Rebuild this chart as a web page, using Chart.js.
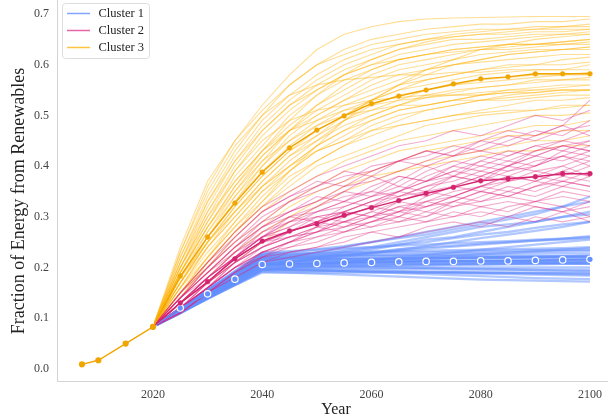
<!DOCTYPE html>
<html><head><meta charset="utf-8">
<script src="https://cdn.jsdelivr.net/npm/chart.js@4/dist/chart.umd.min.js"></script>
<style>html,body{margin:0;padding:0;background:#fff;overflow:hidden}#wrap{width:608px;height:419px;position:relative}canvas{display:block}</style>
</head><body><div id="wrap"><canvas id="c" width="608" height="419"></canvas></div>
<script>
// ---------- DATA ----------
const historyYears = [2007, 2010, 2015, 2020];
const historyValues = [0.009, 0.017, 0.050, 0.083];

const scenarioYears = [2020,2025,2030,2035,2040,2045,2050,2055,2060,2065,2070,2075,2080,2085,2090,2095,2100];

const cluster1Mean = [0.083,0.120,0.148,0.177,0.206,0.207,0.208,0.209,0.210,0.211,0.212,0.212,0.213,0.213,0.214,0.215,0.216];
const cluster2Mean = [0.083,0.130,0.172,0.217,0.252,0.272,0.286,0.303,0.318,0.332,0.346,0.358,0.371,0.375,0.379,0.385,0.385];
const cluster3Mean = [0.083,0.183,0.260,0.327,0.388,0.436,0.471,0.499,0.523,0.538,0.550,0.562,0.572,0.576,0.582,0.582,0.582];

const cluster1Runs = [
 [.083,.110,.140,.165,.190,.190,.190,.190,.190,.190,.190,.190,.190,.190,.190,.190,.190],
 [.083,.110,.140,.167,.195,.195,.195,.195,.194,.193,.192,.191,.190,.189,.188,.187,.186],
 [.083,.112,.142,.171,.200,.200,.200,.200,.200,.200,.200,.200,.200,.200,.200,.200,.200],
 [.083,.113,.144,.174,.205,.205,.206,.207,.208,.209,.210,.211,.212,.213,.214,.215,.216],
 [.083,.115,.147,.178,.210,.210,.210,.210,.210,.210,.210,.210,.210,.210,.210,.210,.210],
 [.083,.116,.149,.182,.215,.215,.215,.216,.217,.218,.218,.219,.220,.220,.221,.222,.222],
 [.083,.117,.151,.186,.220,.220,.221,.222,.222,.223,.224,.225,.226,.226,.227,.228,.228],
 [.083,.119,.155,.190,.225,.226,.227,.228,.229,.230,.230,.231,.232,.233,.234,.235,.235],
 [.083,.120,.157,.193,.230,.232,.235,.238,.240,.243,.245,.248,.250,.252,.255,.257,.260],
 [.083,.111,.139,.167,.195,.200,.205,.210,.215,.220,.225,.230,.235,.240,.245,.250,.255],
 [.083,.114,.145,.175,.206,.210,.216,.222,.228,.235,.242,.250,.258,.265,.272,.280,.290],
 [.083,.116,.148,.180,.212,.220,.230,.240,.250,.260,.270,.280,.290,.300,.310,.320,.330],
 [.083,.113,.143,.173,.203,.210,.220,.230,.235,.245,.255,.260,.270,.280,.290,.300,.305],
 [.083,.110,.138,.165,.192,.190,.188,.186,.184,.182,.180,.178,.176,.175,.174,.173,.172],
 [.083,.111,.139,.168,.197,.196,.195,.193,.191,.189,.187,.185,.183,.181,.179,.178,.177],
 [.083,.115,.146,.177,.208,.212,.218,.225,.230,.236,.240,.243,.247,.250,.253,.255,.258],
 [.083,.118,.153,.187,.222,.225,.230,.235,.240,.250,.260,.270,.280,.285,.290,.300,.310],
 [.083,.114,.146,.177,.208,.208,.209,.210,.210,.211,.212,.212,.213,.214,.214,.215,.215],
 [.083,.112,.141,.170,.199,.200,.201,.202,.203,.204,.205,.206,.207,.208,.209,.210,.210],
 [.083,.117,.150,.184,.218,.220,.225,.232,.238,.245,.250,.258,.265,.270,.278,.285,.290],
 [.083,.119,.156,.192,.228,.228,.229,.230,.231,.232,.233,.234,.235,.236,.237,.238,.240],
 [.083,.113,.142,.172,.202,.202,.202,.203,.203,.204,.204,.205,.205,.206,.206,.207,.207],
 [.083,.115,.148,.180,.212,.213,.214,.215,.216,.217,.218,.219,.220,.221,.222,.223,.224],
 [.083,.119,.155,.190,.226,.230,.236,.242,.250,.258,.265,.275,.285,.295,.305,.320,.340],
 [.083,.111,.139,.166,.194,.194,.193,.193,.192,.192,.191,.191,.190,.190,.189,.189,.188],
 [.083,.112,.141,.169,.198,.198,.198,.198,.197,.197,.197,.196,.196,.196,.195,.195,.195],
 [.083,.113,.143,.172,.202,.203,.204,.205,.205,.206,.207,.207,.208,.208,.209,.209,.210],
 [.083,.114,.145,.176,.207,.207,.207,.207,.207,.207,.207,.207,.207,.207,.207,.207,.207],
 [.083,.115,.146,.178,.209,.210,.211,.212,.213,.214,.215,.216,.217,.218,.219,.220,.221],
 [.083,.116,.148,.181,.213,.213,.213,.213,.213,.213,.213,.213,.213,.213,.213,.213,.213],
 [.083,.116,.150,.183,.216,.216,.217,.217,.218,.218,.219,.219,.220,.220,.221,.221,.222],
 [.083,.117,.151,.185,.219,.219,.219,.219,.219,.219,.219,.219,.219,.219,.219,.219,.219],
 [.083,.118,.152,.187,.221,.222,.223,.224,.225,.226,.227,.228,.229,.230,.231,.232,.233],
 [.083,.118,.154,.189,.224,.224,.224,.224,.224,.224,.223,.223,.223,.223,.222,.222,.222],
 [.083,.112,.140,.168,.196,.195,.194,.193,.192,.191,.190,.189,.188,.187,.186,.185,.184],
 [.083,.114,.144,.175,.205,.204,.203,.202,.201,.200,.199,.198,.197,.196,.195,.194,.193],
 [.083,.117,.151,.184,.218,.218,.218,.217,.216,.215,.214,.213,.212,.211,.210,.209,.208],
 [.083,.113,.143,.174,.204,.206,.208,.211,.214,.217,.220,.223,.226,.229,.232,.235,.238],
 [.083,.116,.149,.182,.215,.218,.221,.225,.229,.233,.237,.241,.245,.249,.253,.257,.262]
];

const cluster2Runs = [
 [.083,.15,.21,.27,.32,.35,.38,.40,.42,.44,.45,.47,.46,.48,.50,.49,.51],
 [.083,.14,.20,.25,.30,.33,.35,.37,.40,.41,.43,.42,.44,.46,.45,.47,.48],
 [.083,.14,.19,.24,.28,.31,.33,.36,.37,.39,.41,.43,.45,.44,.46,.48,.53],
 [.083,.13,.18,.23,.27,.29,.32,.34,.35,.38,.37,.40,.42,.41,.43,.44,.45],
 [.083,.13,.18,.22,.26,.28,.30,.31,.33,.34,.36,.38,.37,.39,.40,.42,.41],
 [.083,.13,.17,.22,.25,.27,.29,.30,.32,.34,.35,.36,.38,.40,.39,.40,.42],
 [.083,.12,.17,.21,.24,.26,.28,.29,.30,.32,.33,.35,.36,.37,.38,.37,.39],
 [.083,.12,.16,.20,.23,.25,.26,.28,.29,.31,.32,.33,.35,.34,.36,.37,.36],
 [.083,.12,.16,.20,.23,.24,.25,.27,.28,.29,.30,.32,.33,.34,.33,.35,.34],
 [.083,.11,.15,.19,.22,.23,.24,.25,.27,.28,.29,.30,.31,.30,.32,.31,.33],
 [.083,.11,.15,.18,.21,.22,.23,.24,.25,.26,.27,.28,.29,.28,.30,.29,.30],
 [.083,.14,.19,.23,.26,.30,.32,.35,.34,.37,.40,.38,.41,.43,.42,.44,.43],
 [.083,.13,.17,.21,.25,.26,.27,.30,.32,.31,.34,.36,.35,.37,.38,.40,.38],
 [.083,.12,.16,.21,.25,.27,.30,.29,.31,.33,.32,.34,.36,.35,.37,.36,.38],
 [.083,.15,.20,.25,.29,.31,.33,.35,.38,.36,.39,.41,.40,.42,.44,.43,.45],
 [.083,.11,.15,.19,.23,.25,.27,.29,.28,.30,.33,.34,.36,.38,.40,.42,.44],
 [.083,.13,.18,.22,.26,.29,.30,.31,.30,.32,.31,.33,.32,.33,.32,.31,.32],
 [.083,.12,.16,.20,.24,.26,.28,.31,.33,.35,.37,.38,.40,.39,.41,.42,.40],
 [.083,.14,.19,.24,.29,.33,.36,.38,.39,.41,.40,.42,.43,.42,.44,.45,.47],
 [.083,.12,.16,.20,.22,.24,.26,.27,.29,.30,.29,.31,.30,.32,.33,.32,.30],
 [.083,.13,.18,.22,.27,.30,.31,.33,.35,.34,.36,.37,.39,.38,.37,.39,.41],
 [.083,.11,.15,.19,.22,.25,.27,.28,.30,.31,.33,.32,.34,.36,.35,.37,.36],
 [.083,.14,.20,.26,.31,.34,.36,.39,.38,.41,.43,.42,.45,.47,.46,.48,.46],
 [.083,.13,.18,.22,.26,.29,.31,.32,.34,.35,.34,.36,.38,.37,.39,.38,.40],
 [.083,.12,.17,.21,.24,.27,.29,.31,.30,.33,.35,.34,.36,.38,.37,.39,.38],
 [.083,.14,.19,.24,.28,.30,.29,.32,.34,.36,.35,.38,.37,.40,.42,.41,.43],
 [.083,.12,.16,.20,.23,.25,.28,.27,.29,.31,.30,.33,.35,.34,.36,.38,.37],
 [.083,.13,.17,.22,.26,.28,.31,.33,.32,.35,.37,.39,.38,.40,.43,.45,.44],
 [.083,.11,.15,.18,.21,.23,.24,.26,.27,.26,.28,.29,.28,.30,.29,.31,.29],
 [.083,.15,.21,.26,.31,.34,.37,.36,.39,.41,.42,.44,.43,.45,.47,.46,.49],
 [.083,.12,.16,.21,.24,.26,.27,.29,.31,.30,.32,.34,.33,.35,.34,.36,.35],
 [.083,.13,.18,.23,.28,.31,.34,.33,.36,.38,.37,.39,.41,.40,.42,.44,.43],
 [.083,.12,.17,.22,.26,.27,.29,.28,.30,.29,.31,.30,.32,.31,.33,.34,.33],
 [.083,.14,.18,.22,.25,.27,.29,.31,.33,.35,.38,.40,.39,.41,.40,.43,.42]
];

const cluster3Runs = [
 [.083,.24,.37,.45,.52,.58,.63,.66,.675,.685,.69,.692,.693,.694,.695,.695,.695],
 [.083,.22,.34,.43,.50,.56,.60,.63,.65,.66,.67,.675,.68,.68,.685,.685,.69],
 [.083,.21,.32,.41,.48,.53,.57,.60,.62,.64,.65,.66,.665,.67,.67,.675,.675],
 [.083,.20,.30,.39,.46,.51,.55,.58,.60,.62,.63,.64,.645,.65,.655,.66,.66],
 [.083,.20,.29,.37,.43,.48,.52,.55,.58,.60,.61,.62,.63,.635,.64,.64,.645],
 [.083,.19,.28,.36,.42,.47,.50,.53,.55,.57,.59,.60,.61,.62,.625,.63,.63],
 [.083,.19,.27,.34,.40,.45,.49,.52,.54,.56,.57,.58,.59,.60,.60,.61,.615],
 [.083,.18,.26,.33,.39,.44,.48,.51,.53,.55,.56,.57,.58,.585,.59,.59,.60],
 [.083,.18,.25,.32,.38,.43,.46,.49,.52,.54,.55,.56,.57,.575,.58,.58,.585],
 [.083,.17,.25,.31,.37,.42,.45,.48,.50,.52,.54,.55,.555,.56,.57,.57,.575],
 [.083,.17,.24,.30,.36,.40,.44,.47,.49,.51,.52,.53,.54,.55,.555,.56,.56],
 [.083,.16,.23,.29,.35,.39,.43,.45,.48,.50,.51,.52,.53,.535,.54,.545,.55],
 [.083,.16,.22,.28,.33,.38,.41,.44,.46,.48,.49,.50,.51,.52,.53,.53,.535],
 [.083,.15,.21,.27,.32,.36,.40,.42,.44,.46,.48,.49,.50,.505,.51,.52,.52],
 [.083,.15,.20,.26,.31,.35,.38,.41,.43,.45,.46,.47,.48,.49,.50,.50,.505],
 [.083,.14,.20,.25,.29,.33,.36,.39,.41,.43,.44,.45,.46,.47,.48,.48,.49],
 [.083,.14,.19,.24,.28,.32,.35,.37,.39,.41,.43,.44,.45,.46,.46,.47,.47],
 [.083,.13,.18,.23,.27,.30,.33,.36,.38,.39,.41,.42,.43,.44,.45,.45,.46],
 [.083,.23,.35,.44,.50,.54,.56,.57,.575,.58,.58,.585,.585,.59,.59,.59,.59],
 [.083,.15,.21,.27,.33,.39,.44,.49,.53,.56,.59,.61,.63,.64,.65,.655,.66],
 [.083,.21,.31,.39,.45,.49,.51,.52,.53,.535,.54,.54,.545,.55,.55,.55,.55],
 [.083,.17,.26,.34,.41,.47,.52,.56,.59,.61,.62,.63,.635,.64,.64,.645,.65],
 [.083,.19,.28,.35,.41,.45,.48,.50,.51,.52,.52,.53,.53,.53,.535,.54,.54],
 [.083,.16,.24,.31,.37,.42,.46,.50,.53,.56,.58,.60,.61,.62,.625,.63,.635],
 [.083,.13,.17,.21,.25,.29,.32,.35,.37,.39,.40,.41,.42,.43,.43,.44,.44],
 [.083,.22,.33,.41,.47,.52,.55,.58,.60,.61,.62,.625,.63,.63,.635,.64,.64],
 [.083,.23,.36,.45,.51,.56,.60,.62,.64,.65,.66,.665,.67,.67,.675,.675,.68],
 [.083,.21,.33,.42,.49,.54,.58,.61,.63,.64,.65,.655,.66,.66,.665,.665,.67],
 [.083,.20,.31,.40,.47,.52,.56,.59,.61,.63,.64,.65,.65,.655,.66,.66,.665],
 [.083,.19,.29,.38,.44,.50,.54,.57,.59,.61,.62,.63,.635,.64,.64,.645,.65],
 [.083,.18,.27,.35,.42,.47,.51,.54,.57,.59,.60,.61,.62,.625,.63,.63,.635],
 [.083,.18,.26,.33,.40,.46,.50,.53,.56,.58,.59,.60,.605,.61,.615,.62,.62],
 [.083,.17,.25,.32,.38,.43,.47,.50,.53,.55,.57,.58,.59,.595,.60,.60,.605],
 [.083,.16,.24,.30,.36,.41,.45,.49,.51,.53,.55,.56,.565,.57,.575,.58,.58],
 [.083,.15,.22,.28,.34,.39,.43,.46,.49,.51,.52,.53,.54,.545,.55,.555,.56],
 [.083,.20,.30,.37,.43,.47,.49,.51,.52,.53,.535,.54,.54,.545,.545,.55,.55],
 [.083,.14,.21,.27,.32,.37,.41,.44,.47,.49,.51,.52,.53,.54,.545,.55,.55],
 [.083,.17,.25,.31,.36,.40,.43,.45,.47,.48,.49,.50,.505,.51,.51,.515,.52],
 [.083,.19,.28,.36,.43,.49,.54,.58,.61,.63,.645,.655,.66,.665,.67,.67,.67],
 [.083,.15,.22,.29,.35,.40,.44,.47,.50,.52,.535,.545,.555,.56,.565,.57,.57]
];

const legendLabels = ['Cluster 1', 'Cluster 2', 'Cluster 3'];
const xTickLabels = [2020, 2040, 2060, 2080, 2100];
const yTickLabels = [0.0, 0.1, 0.2, 0.3, 0.4, 0.5, 0.6, 0.7];
const xAxisTitle = 'Year';
const yAxisTitle = 'Fraction of Energy from Renewables';

// ---------- STYLE ----------
const runColors  = ['rgba(100,143,255,0.5)', 'rgba(220,38,127,0.38)', 'rgba(255,176,0,0.42)'];
const meanColors = ['#648FFF', '#D4236F', '#F0A500'];
const legendColors = ['rgba(100,143,255,0.8)', 'rgba(220,38,127,0.7)', 'rgba(255,176,0,0.75)'];
const FONT = "'Liberation Serif', 'Times New Roman', serif";

const toPts = (xs, ys) => xs.map((x, i) => ({x: x, y: ys[i]}));

const datasets = [];
[cluster1Runs, cluster2Runs, cluster3Runs].forEach((runs, c) => {
  const ord = [12, 10, 11][c];
  runs.forEach(r => datasets.push({
    data: toPts(scenarioYears, r), borderColor: runColors[c], borderWidth: c === 0 ? 2.3 : 1.1,
    pointRadius: 0, order: ord, tension: 0
  }));
});
[cluster1Mean, cluster2Mean, cluster3Mean].forEach((m, c) => {
  datasets.push({
    data: toPts(scenarioYears, m), borderColor: meanColors[c], borderWidth: 1.4,
    pointRadius: c === 0 ? 3.2 : 2.4,
    pointBackgroundColor: meanColors[c],
    pointBorderColor: c === 0 ? '#ffffff' : meanColors[c],
    pointBorderWidth: c === 0 ? 1.2 : 0.5,
    order: 3 - c
  });
});
datasets.push({
  data: toPts(historyYears, historyValues), borderColor: '#F0A500', borderWidth: 1.4,
  pointRadius: 2.4, pointBackgroundColor: '#F0A500', pointBorderColor: '#F0A500', order: 0
});

const overlay = {
  id: 'overlay',
  afterDraw(chart) {
    const ctx = chart.ctx;
    ctx.save();
    ctx.fillStyle = '#222';
    ctx.font = '16px ' + FONT;
    ctx.textAlign = 'center';
    ctx.textBaseline = 'alphabetic';
    ctx.fillText(xAxisTitle, 336, 414);
    ctx.translate(24, 201);
    ctx.rotate(-Math.PI / 2);
    ctx.font = '18px ' + FONT;
    ctx.fillText(yAxisTitle, 0, 0);
    ctx.restore();
    // legend
    ctx.save();
    const bx = 62.5, by = 3.5, bw = 87, bh = 55, r = 3;
    ctx.beginPath();
    ctx.moveTo(bx + r, by); ctx.lineTo(bx + bw - r, by); ctx.quadraticCurveTo(bx + bw, by, bx + bw, by + r);
    ctx.lineTo(bx + bw, by + bh - r); ctx.quadraticCurveTo(bx + bw, by + bh, bx + bw - r, by + bh);
    ctx.lineTo(bx + r, by + bh); ctx.quadraticCurveTo(bx, by + bh, bx, by + bh - r);
    ctx.lineTo(bx, by + r); ctx.quadraticCurveTo(bx, by, bx + r, by); ctx.closePath();
    ctx.fillStyle = 'rgba(255,255,255,0.85)'; ctx.fill();
    ctx.strokeStyle = '#dddddd'; ctx.lineWidth = 1; ctx.stroke();
    ctx.font = '12.5px ' + FONT;
    ctx.textAlign = 'left'; ctx.textBaseline = 'middle';
    legendLabels.forEach((lab, i) => {
      const y = 13.5 + i * 17;
      ctx.strokeStyle = legendColors[i]; ctx.lineWidth = 1.5;
      ctx.beginPath(); ctx.moveTo(67, y); ctx.lineTo(90, y); ctx.stroke();
      ctx.fillStyle = '#222';
      ctx.fillText(lab, 98.5, y + 0.5);
    });
    ctx.restore();
  }
};

new Chart(document.getElementById('c'), {
  type: 'line',
  data: { datasets },
  plugins: [overlay],
  options: {
    responsive: false, animation: false, events: [], devicePixelRatio: 1,
    parsing: false,
    layout: { padding: 0, autoPadding: false },
    plugins: { legend: { display: false }, tooltip: { enabled: false }, title: { display: false } },
    scales: {
      x: {
        type: 'linear', min: 2002.43, max: 2103.3,
        grid: { display: false, drawTicks: false },
        border: { color: '#d4d4d4', width: 1 },
        afterBuildTicks: s => { s.ticks = xTickLabels.map(v => ({value: v})); },
        afterFit: s => { s.height = 38; s.paddingLeft = 0; s.paddingRight = 0; },
        ticks: { color: '#444', font: { family: FONT, size: 12 }, padding: 7, maxRotation: 0,
                 callback: v => String(v) }
      },
      y: {
        type: 'linear', min: -0.0239, max: 0.7276,
        grid: { display: false, drawTicks: false },
        border: { color: '#d4d4d4', width: 1 },
        afterBuildTicks: s => { s.ticks = yTickLabels.map(v => ({value: v})); },
        afterFit: s => { s.width = 57; s.paddingTop = 0; s.paddingBottom = 0; },
        ticks: { color: '#444', font: { family: FONT, size: 12 }, padding: 8,
                 callback: v => Number(v).toFixed(1) }
      }
    }
  }
});
</script></body></html>
